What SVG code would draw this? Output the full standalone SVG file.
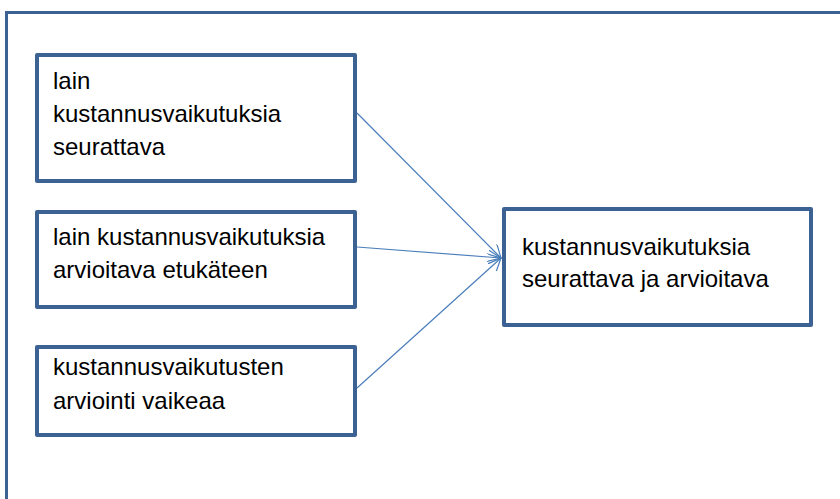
<svg xmlns="http://www.w3.org/2000/svg" width="840" height="499" viewBox="0 0 840 499">
<style>
.frame{fill:none;stroke:#3b6292;stroke-width:3}
.box{fill:#fff;stroke:#3b6292;stroke-width:4;stroke-linejoin:round}
.t{font-family:"Liberation Sans",Arial,sans-serif;font-size:24px;fill:#000}
.c{fill:none;stroke:#4a7ebb;stroke-width:1.2}
</style>
<defs>
<marker id="arr" viewBox="0 0 14 14" refX="13" refY="7" markerWidth="14" markerHeight="14" markerUnits="userSpaceOnUse" orient="auto">
<path d="M0,0 L13,7 L0,14" fill="none" stroke="#4a7ebb" stroke-width="1.2"/>
</marker>
</defs>
<rect class="frame" x="6.5" y="12.5" width="900" height="600"/>
<g id="connectors">
<line class="c" x1="357" y1="113" x2="501" y2="258" marker-end="url(#arr)"/>
<line class="c" x1="357" y1="247" x2="501" y2="258" marker-end="url(#arr)"/>
<line class="c" x1="357" y1="388" x2="501" y2="258" marker-end="url(#arr)"/>
</g>
<g id="n1">
<rect class="box" x="37" y="55" width="318" height="126"/>
<text class="t" x="53" y="89">lain</text>
<text class="t" x="53" y="122">kustannusvaikutuksia</text>
<text class="t" x="53" y="155">seurattava</text>
</g>
<g id="n2">
<rect class="box" x="37" y="212" width="318" height="95"/>
<text class="t" x="53" y="245">lain kustannusvaikutuksia</text>
<text class="t" x="53" y="278">arvioitava etukäteen</text>
</g>
<g id="n3">
<rect class="box" x="37" y="347" width="318" height="88"/>
<text class="t" x="53" y="375">kustannusvaikutusten</text>
<text class="t" x="53" y="409">arviointi vaikeaa</text>
</g>
<g id="n4">
<rect class="box" x="504" y="209" width="307" height="116"/>
<text class="t" x="522" y="255">kustannusvaikutuksia</text>
<text class="t" x="522" y="287">seurattava ja arvioitava</text>
</g>
</svg>
